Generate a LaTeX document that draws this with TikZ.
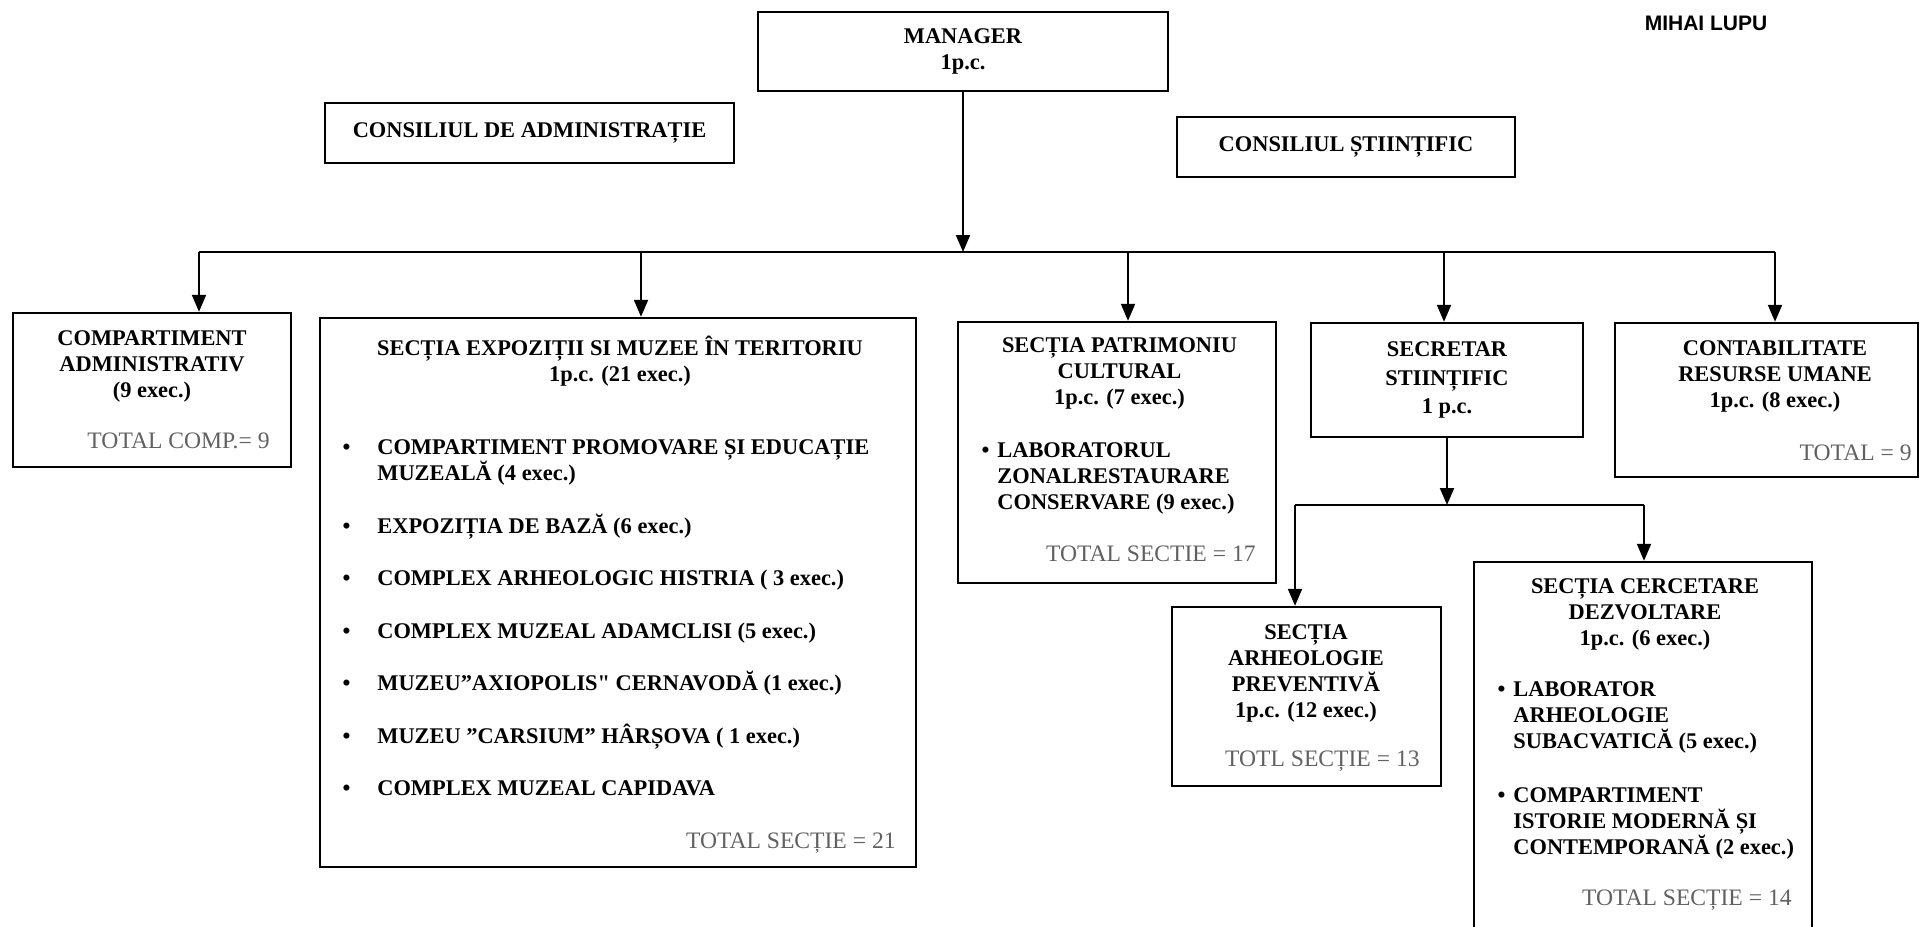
\documentclass[tikz,border=0pt]{standalone}
\usepackage{fontspec}
\setmainfont{Liberation Serif}
\newfontfamily\signfont{Liberation Sans}
\newfontfamily\plainserif[Ligatures=ResetAll]{Liberation Serif}
\usetikzlibrary{arrows.meta}

\newcommand{\itemdot}[1][4pt]{\llap{\textbullet\hspace{#1}}}
\newcommand{\straightq}{{\plainserif\bfseries\char"22}}

\begin{document}
\begin{tikzpicture}[x=0.5pt, y=-0.5pt,
  >={Triangle[length=8.5pt,width=7pt]},
  box/.style={draw, line width=1.2pt, inner sep=0pt},
  link/.style={line width=1pt},
  txt/.style={font=\fontsize{11.2}{13}\selectfont\bfseries, inner sep=0pt, align=center},
  lst/.style={font=\fontsize{11.2}{13}\selectfont\bfseries, inner sep=0pt, align=left},
  tot/.style={font=\fontsize{11.8}{13}\selectfont, text=black!62, inner sep=0pt}]
\useasboundingbox (0,0) rectangle (1921,926);
\clip (0,0) rectangle (1921,926);

% Manager si consilii
\node[box, txt, minimum width=205pt, minimum height=39.5pt] (manager) at (963,51.5) {MANAGER\\1p.c.};
\node[box, txt, minimum width=204.5pt, minimum height=30pt] (consadm) at (529.5,133) {CONSILIUL DE ADMINISTRAȚIE};
\node[box, txt, minimum width=169pt, minimum height=30pt] (consst) at (1346,147) {CONSILIUL ȘTIINȚIFIC};
\node[font=\signfont\fontsize{10.5}{12}\selectfont\bfseries] (semn) at (1706,23) {MIHAI LUPU};

% Compartiment administrativ
\node[box, minimum width=139pt, minimum height=77pt] (comp) at (152,390) {};
\node[txt, anchor=north] (comptxt) at (152,330.5) {COMPARTIMENT\\ADMINISTRATIV\\(9 exec.)};
\node[tot, anchor=north east] (comptot) at (270,432.5) {TOTAL COMP.= 9};

% Sectia expozitii
\node[box, minimum width=298pt, minimum height=274.5pt] (expo) at (618,592.5) {};
\node[txt, anchor=north] (expotxt) at (620,335.5) {SECȚIA EXPOZIȚII SI MUZEE ÎN TERITORIU\\1p.c. (21 exec.)};
\node[lst, anchor=north west] (expolst) at (377,439.5) {\itemdot[13.5pt]COMPARTIMENT PROMOVARE ȘI EDUCAȚIE\\MUZEALĂ (4 exec.)\\[13.25pt]
  \itemdot[13.5pt]EXPOZIȚIA DE BAZĂ (6 exec.)\\[13.25pt]
  \itemdot[13.5pt]COMPLEX ARHEOLOGIC HISTRIA ( 3 exec.)\\[13.25pt]
  \itemdot[13.5pt]COMPLEX MUZEAL ADAMCLISI (5 exec.)\\[13.25pt]
  \itemdot[13.5pt]MUZEU”AXIOPOLIS\straightq{} CERNAVODĂ (1 exec.)\\[13.25pt]
  \itemdot[13.5pt]MUZEU ”CARSIUM” HÂRȘOVA ( 1 exec.)\\[13.25pt]
  \itemdot[13.5pt]COMPLEX MUZEAL CAPIDAVA};
\node[tot, anchor=north east] (expotot) at (896,832.5) {TOTAL SECȚIE = 21};

% Sectia patrimoniu
\node[box, minimum width=159pt, minimum height=130.5pt] (patrim) at (1117,452.5) {};
\node[txt, anchor=north] (patrimtxt) at (1119.5,337.5) {SECȚIA PATRIMONIU\\CULTURAL\\1p.c. (7 exec.)};
\node[lst, anchor=north west] (patrimlst) at (997,442.5) {\itemdot LABORATORUL\\ZONALRESTAURARE\\CONSERVARE (9 exec.)};
\node[tot, anchor=north east] (patrimtot) at (1256,545.5) {TOTAL SECTIE = 17};

% Secretar stiintific
\node[box, txt, font=\fontsize{11.2}{14.2}\selectfont\bfseries, minimum width=136pt, minimum height=57pt] (secretar) at (1447,380) {SECRETAR\\STIINȚIFIC\\1 p.c.};

% Contabilitate
\node[box, minimum width=151.5pt, minimum height=77pt] (contab) at (1766.5,400) {};
\node[txt, anchor=north] (contabtxt) at (1775,340.5) {CONTABILITATE\\RESURSE UMANE\\1p.c. (8 exec.)};
\node[tot, anchor=north east] (contabtot) at (1912,444.5) {TOTAL = 9};

% Arheologie preventiva
\node[box, minimum width=134.5pt, minimum height=89.5pt] (arheo) at (1306.5,696.5) {};
\node[txt, anchor=north] (arheotxt) at (1306,624.5) {SECȚIA\\ARHEOLOGIE\\PREVENTIVĂ\\1p.c. (12 exec.)};
\node[tot, anchor=north east] (arheotot) at (1420,750.5) {TOTL SECȚIE = 13};

% Cercetare dezvoltare
\node[box, minimum width=169pt, minimum height=194pt] (cercet) at (1643,756) {};
\node[txt, anchor=north] (cercettxt) at (1645,578.5) {SECȚIA CERCETARE\\DEZVOLTARE\\1p.c. (6 exec.)};
\node[lst, anchor=north west] (cercetlst) at (1513,681.5) {\itemdot LABORATOR\\ARHEOLOGIE\\SUBACVATICĂ (5 exec.)\\[14pt]
  \itemdot COMPARTIMENT\\ISTORIE MODERNĂ ȘI\\CONTEMPORANĂ (2 exec.)};
\node[tot, anchor=north east] (cercettot) at (1792,889.5) {TOTAL SECȚIE = 14};

% legaturi
\foreach \x/\n in {199/comp, 641/expo, 1128/patrim, 1444/secretar, 1775/contab}{
  \coordinate (t\n) at (\x,252);
  \draw[link,->] (t\n) -- (t\n |- \n.north);
}
\draw[link] (tcomp) -- (tcontab);
\draw[link,->] (manager) -- (manager |- tcomp);

\foreach \x/\n in {1295/arheo, 1644/cercet}{
  \coordinate (s\n) at (\x,505);
  \draw[link,->] (s\n) -- (s\n |- \n.north);
}
\draw[link] (sarheo) -- (scercet);
\draw[link,->] (secretar) -- (secretar |- scercet);
\end{tikzpicture}
\end{document}
